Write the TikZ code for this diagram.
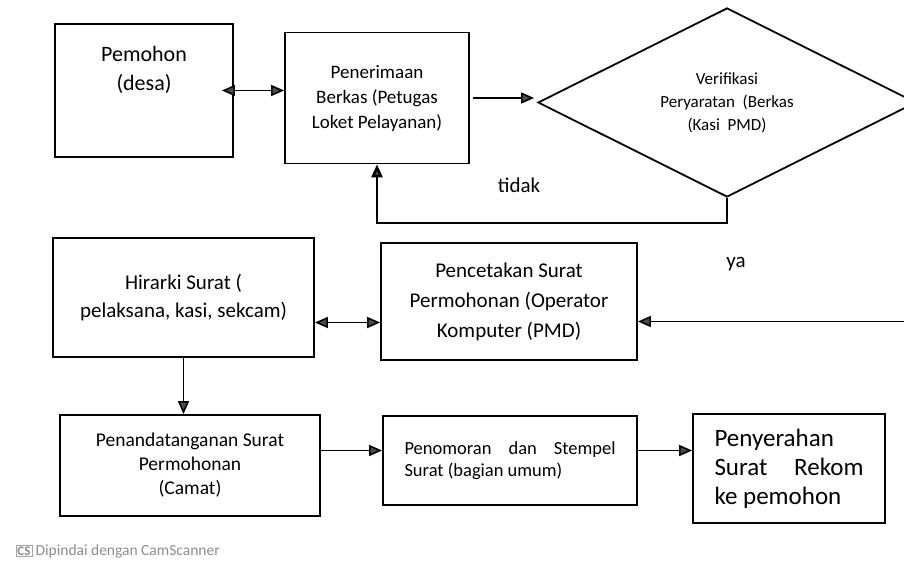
\documentclass[tikz,border=0pt]{standalone}
\usepackage{fontspec}
\setmainfont{Carlito}
\usetikzlibrary{shapes.geometric,arrows.meta,positioning}
\tikzset{
	>={Triangle[length=13pt,width=11pt,fill=black!70]},
	box/.style={draw, line width=1.8pt, rectangle, align=center, inner sep=0pt},
	decision/.style={draw, line width=1.8pt, diamond, aspect=2, align=center, inner sep=0pt},
	flow/.style={line width=1.6pt, ->},
	flow2/.style={line width=1.6pt, <->},
}

\begin{document}
\begin{tikzpicture}[x=1pt, y=-1pt]
		\useasboundingbox (0,0) rectangle (904,562);
		\clip (0,0) rectangle (904,562);

		\node[box, minimum width=178, minimum height=133, label={[anchor=north, yshift=-20pt, align=center, font=\fontsize{22}{29}\selectfont]north:{Pemohon\\(desa)}}] (pemohon) at (144,90.5) {};
		\node[box, minimum width=184, minimum height=131, font=\fontsize{19}{25}\selectfont] (terima) at (377,98) {Penerimaan\\Berkas (Petugas\\Loket Pelayanan)};
		\node[decision, minimum width=378, minimum height=189, font=\fontsize{17}{23}\selectfont] (verif) at (727,102.5) {Verifikasi\\Peryaratan\ \ (Berkas\\(Kasi\ \ PMD)};
		\node[box, minimum width=261, minimum height=119, font=\fontsize{21}{28}\selectfont] (hirarki) at (183.5,297.5) {Hirarki Surat (\\pelaksana, kasi, sekcam)};
		\node[box, minimum width=256, minimum height=117, font=\fontsize{21}{30}\selectfont] (cetak) at (509,301.5) {Pencetakan Surat\\Permohonan (Operator\\Komputer (PMD)};
		\node[box, minimum width=260, minimum height=101, font=\fontsize{19.5}{24}\selectfont] (tanda) at (190,465.5) {Penandatanganan Surat\\Permohonan\\(Camat)};
		\node[box, minimum width=254, minimum height=89, align=left, font=\fontsize{18.5}{22}\selectfont] (nomor) at (510,460.5) {\makebox[211pt][s]{Penomoran dan Stempel}\\Surat (bagian umum)};
		\node[box, minimum width=192, minimum height=109, align=left, font=\fontsize{25}{29}\selectfont] (serah) at (789,468.5) {Penyerahan\\\makebox[149pt][s]{Surat Rekom}\\ke pemohon};

		\node[font=\fontsize{21}{25}\selectfont] (tidak) at (519,185) {tidak};
		\node[font=\fontsize{21}{25}\selectfont] (ya) at (736,264) {ya};

		\node[draw=gray!70, line width=0.8pt, inner sep=1.5pt, text=gray!90, font=\fontsize{13}{13}\selectfont\bfseries] (csmark) at (24,551) {CS};
		\node[right=3pt of csmark, inner sep=0pt, text=gray!90, font=\fontsize{15.5}{15.5}\selectfont] (scan) {Dipindai dengan CamScanner};

		\draw[flow2] ([xshift=-12pt]pemohon.east) -- (pemohon.east -| terima.west);
		\draw[flow, shorten <=3pt, shorten >=3pt] (terima.east) -- (terima.east -| verif.west);
		\draw[flow, line width=2.5pt] (verif.south) -- ++(0,25) -| (terima.south);
		\draw[flow] (verif.east) |- ([yshift=-20pt]cetak.east);
		\draw[flow2] ([yshift=-25pt]hirarki.east) -- ([yshift=-25pt]hirarki.east -| cetak.west);
		\draw[flow] (hirarki.south) -- (hirarki.south |- tanda.north);
		\draw[flow] ([yshift=15pt]tanda.east) -- ([yshift=15pt]tanda.east -| nomor.west);
		\draw[flow] ([yshift=15pt]tanda.east -| nomor.east) -- ([yshift=15pt]tanda.east -| serah.west);
	\end{tikzpicture}
\end{document}
